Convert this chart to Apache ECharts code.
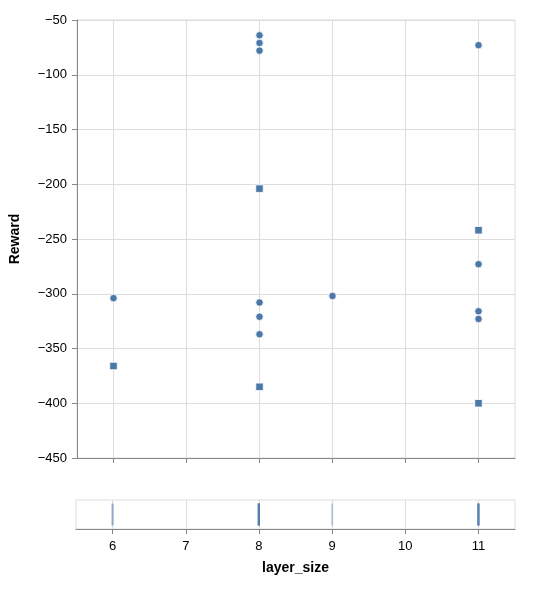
<!DOCTYPE html>
<html>
<head>
<meta charset="utf-8">
<script src="https://cdn.jsdelivr.net/npm/echarts@6/dist/echarts.min.js"></script>
<style>html,body{margin:0;padding:0;background:#fff;}#c{width:534px;height:593px;}</style>
</head>
<body>
<div id="c"></div>
<script>
// Data
const circleX = [6, 8, 8, 8, 8, 8, 8, 9, 11, 11, 11, 11];
const circleY = [-304, -64, -71, -78, -308, -321, -337, -302, -73, -273, -316, -323];
const squareX = [6, 8, 8, 11, 11];
const squareY = [-366, -204, -385, -242, -400];
const xTicks = [6, 7, 8, 9, 10, 11];
const yTicks = [-450, -400, -350, -300, -250, -200, -150, -100, -50];

const color = '#4c78a8';
const font = 'Liberation Sans, Arial, sans-serif';
const fmtMinus = v => String(v).replace('-', '\u2212');

const circleData = circleX.map((x, i) => [x, circleY[i]]);
const squareData = squareX.map((x, i) => [x, squareY[i]]);
const stripData = circleX.concat(squareX).map(x => [x, 0.5]);

const chart = echarts.init(document.getElementById('c'), null, {renderer: 'canvas'});
chart.setOption({
  animation: false,
  backgroundColor: '#fff',
  grid: [
    {left: 76, top: 20, width: 439, height: 438, show: true, borderColor: '#ddd', borderWidth: 1, backgroundColor: 'transparent'},
    {left: 76, top: 500, width: 439, height: 29, show: true, borderColor: '#ddd', borderWidth: 1, backgroundColor: 'transparent'}
  ],
  xAxis: [
    {
      gridIndex: 0, type: 'value', min: 5.5, max: 11.5,
      axisLine: {show: true, lineStyle: {color: '#888', width: 1}},
      axisTick: {show: true, length: 5, customValues: xTicks, lineStyle: {color: '#888'}},
      axisLabel: {show: false},
      splitLine: {show: true, lineStyle: {color: '#ddd', width: 1}}
    },
    {
      gridIndex: 1, type: 'value', min: 5.5, max: 11.5,
      name: 'layer_size', nameLocation: 'middle', nameGap: 32,
      nameTextStyle: {fontFamily: font, fontSize: 14, fontWeight: 'bold', color: '#000'},
      axisLine: {show: true, lineStyle: {color: '#888', width: 1}},
      axisTick: {show: true, length: 5, customValues: xTicks, lineStyle: {color: '#888'}},
      axisLabel: {show: true, customValues: xTicks, fontFamily: font, fontSize: 13, color: '#000', margin: 11},
      splitLine: {show: true, lineStyle: {color: '#ddd', width: 1}}
    }
  ],
  yAxis: [
    {
      gridIndex: 0, type: 'value', min: -450, max: -50, interval: 50,
      name: 'Reward', nameLocation: 'middle', nameGap: 55, nameRotate: 90,
      nameTextStyle: {fontFamily: font, fontSize: 14, fontWeight: 'bold', color: '#000'},
      axisLine: {show: true, lineStyle: {color: '#888', width: 1}},
      axisTick: {show: true, length: 5, lineStyle: {color: '#888'}},
      axisLabel: {fontFamily: font, fontSize: 13, color: '#000', margin: 10, formatter: fmtMinus},
      splitLine: {show: true, lineStyle: {color: '#ddd', width: 1}}
    },
    {
      gridIndex: 1, type: 'value', min: 0, max: 1, show: false,
      splitLine: {show: false}
    }
  ],
  series: [
    {
      type: 'scatter', xAxisIndex: 0, yAxisIndex: 0, symbol: 'circle', symbolSize: 7.5,
      itemStyle: {color: color, opacity: 1, borderColor: '#fff', borderWidth: 0.8},
      data: circleData, silent: true
    },
    {
      type: 'scatter', xAxisIndex: 0, yAxisIndex: 0, symbol: 'rect', symbolSize: 7.5,
      itemStyle: {color: color, opacity: 1, borderColor: '#fff', borderWidth: 0.8},
      data: squareData, silent: true
    },
    {
      type: 'scatter', xAxisIndex: 1, yAxisIndex: 1, symbol: 'rect', symbolSize: [2.2, 22],
      itemStyle: {color: color, opacity: 0.3},
      data: stripData, silent: true
    }
  ]
});
</script>
</body>
</html>
